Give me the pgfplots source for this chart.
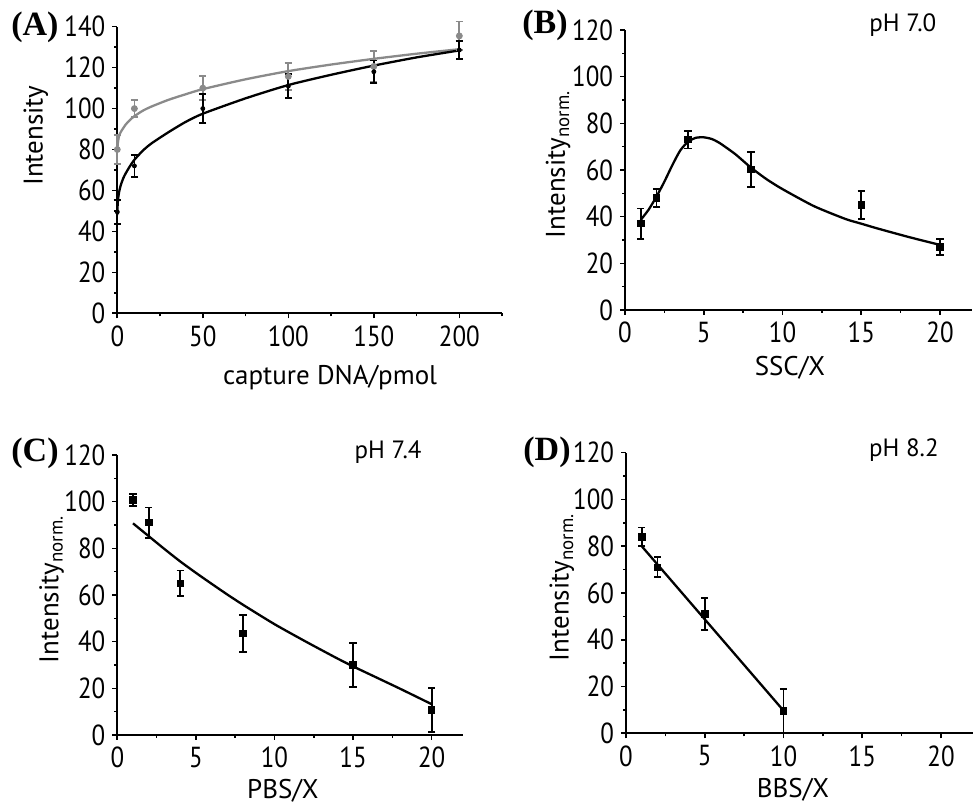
\documentclass[border=0pt]{standalone}
\usepackage{fontspec}
\setmainfont{PT Sans}
\newfontfamily\tickfont{PT Sans}[FakeStretch=0.86]
\newfontfamily\letterfont{Liberation Serif}
\usepackage{pgfplots}
\pgfplotsset{compat=1.18}
\definecolor{fitgray}{HTML}{8A8A8A}
\pgfplotsset{
  myax/.style={
    scale only axis, axis lines=left, axis line style={-, line width=0.9pt},
    tick align=outside, major tick length=2.5pt, minor tick length=1.5pt,
    every tick/.style={black, line width=0.8pt},
    tick label style={font=\tickfont\fontsize{14.5}{16}\selectfont},
    label style={font=\fontsize{13.5}{16}\selectfont},
    /pgf/number format/assume math mode=true,
    clip=false, ymin=0, xmin=0,
    anchor=south west,
  },
  errs/.style={error bars/.cd, y dir=both, y explicit,
    error bar style={line width=0.9pt, #1},
    error mark options={rotate=90, mark size=1.8pt, line width=0.9pt, #1}},
  errs/.default=black,
  dat/.style={black, only marks, mark=square*, mark size=1.6pt, errs},
  fit/.style={black, line width=1.15pt, smooth, tension=0.4, mark=none},
}
\tikzset{
  letter/.style={font=\letterfont\bfseries\fontsize{17}{19}\selectfont},
  ph/.style={font=\fontsize{12.5}{15}\selectfont},
}
\begin{document}
\begin{tikzpicture}
\path[use as bounding box] (0,0) rectangle (488pt,401.5pt);
% ---------------- (A)
\begin{axis}[myax, at={(58.65pt,244.85pt)}, width=192.4pt, height=143.3pt,
  xmax=225, ymax=140,
  xtick={0,50,100,150,200}, minor xtick={25,75,125,175,225},
  ytick={0,20,...,140}, minor ytick={10,30,...,130},
  xlabel={capture DNA/pmol}, ylabel={Intensity},
  xlabel style={at={(axis description cs:0.553,-0.226)}, anchor=center},
  ylabel style={at={(axis description cs:-0.212,0.62)}, anchor=center},
]
\addplot[fit, fitgray] coordinates {(0,79) (0.3,83) (1,86.5) (2,88.5) (3.5,90.5) (5,92.3) (7.5,94.5) (10,96.3) (15,99) (20,101) (30,104.3) (40,107) (50,109.5) (75,114.3) (100,118.3) (125,121.5) (150,124.3) (175,126.8) (200,129)};
\addplot[fit] coordinates {(0,48) (0.2,53) (0.5,56) (1,59) (2,62.5) (3.5,66) (5,68.5) (7.5,72) (10,75) (15,79.5) (20,83) (30,88.5) (40,93.5) (50,97.5) (75,105) (100,111.5) (125,116.5) (150,121) (175,125) (200,128.4)};
\addplot[fitgray, only marks, mark=*, mark size=1.5pt, errs=fitgray] coordinates {
 (0,80) +- (0,7) (10,100) +- (0,4) (50,110) +- (0,6) (100,115.7) +- (0,6.7) (150,120.6) +- (0,7.5) (200,135.5) +- (0,7)};
\addplot[black, only marks, mark=*, mark size=1pt, errs] coordinates {
 (0,49.5) +- (0,5.7) (10,72) +- (0,5.5) (50,100) +- (0,7) (100,111) +- (0,6) (150,118) +- (0,5.5) (200,128.6) +- (0,4.5)};
\node[letter] at (axis description cs:-0.214,0.999) {(A)};
\end{axis}
% ---------------- (B)
\begin{axis}[myax, at={(312.5pt,246.5pt)}, width=173.25pt, height=140pt,
  xmax=22, ymax=120,
  xtick={0,5,...,20}, minor xtick={2.5,7.5,12.5,17.5},
  ytick={0,20,...,120}, minor ytick={10,30,...,110},
  xlabel={SSC/X}, ylabel={Intensity\textsubscript{norm.}},
  xlabel style={at={(axis description cs:0.476,-0.205)}, anchor=center},
  ylabel style={at={(axis description cs:-0.193,0.52)}, anchor=center},
]
\addplot[fit] coordinates {(1,38.6) (1.5,43) (2,48.6) (2.5,55) (3,62) (3.5,68.3) (4,72.1) (4.5,73.8) (5,74) (5.5,73.3) (6,71.6) (7,66.8) (8,61) (9,56) (10,51.8) (12,44.5) (14,39) (15,37) (16,35) (18,31.3) (20,27.9)};
\addplot[dat] coordinates {(1,37) +- (0,6.5) (2,48) +- (0,4) (4,73) +- (0,3.8) (8,60.3) +- (0,7.5) (15,45) +- (0,6) (20,27) +- (0,3.5)};
\node[letter] at (axis description cs:-0.231,1.018) {(B)};
\node[ph] at (axis description cs:0.802,1.018) {pH 7.0};
\end{axis}
% ---------------- (C)
\begin{axis}[myax, at={(58.65pt,34pt)}, width=172.9pt, height=140pt,
  xmax=22, ymax=120,
  xtick={0,5,...,20}, minor xtick={2.5,7.5,12.5,17.5},
  ytick={0,20,...,120}, minor ytick={10,30,...,110},
  xlabel={PBS/X}, ylabel={Intensity\textsubscript{norm.}},
  xlabel style={at={(axis description cs:0.479,-0.198)}, anchor=center},
  ylabel style={at={(axis description cs:-0.19,0.52)}, anchor=center},
]
\addplot[fit] coordinates {(1,90.7) (2,85.2) (3,79.7) (4,74.4) (5,69.5) (6,64.8) (7,60.2) (8,55.8) (10,47.5) (12,40) (14,32.8) (15,29.4) (16,26.2) (18,19.8) (20,13.2)};
\addplot[dat] coordinates {(1,100.7) +- (0,2.5) (2,91) +- (0,6.5) (4,65) +- (0,5.5) (8,43.5) +- (0,8) (15,30) +- (0,9.3) (20,10.7) +- (0,9.3)};
\node[letter] at (axis description cs:-0.238,1.007) {(C)};
\node[ph] at (axis description cs:0.783,1.011) {pH 7.4};
\end{axis}
% ---------------- (D)
\begin{axis}[myax, at={(313pt,34.85pt)}, width=173.25pt, height=140.3pt,
  xmax=22, ymax=120,
  xtick={0,5,...,20}, minor xtick={2.5,7.5,12.5,17.5},
  ytick={0,20,...,120}, minor ytick={10,30,...,110},
  xlabel={BBS/X}, ylabel={Intensity\textsubscript{norm.}},
  xlabel style={at={(axis description cs:0.482,-0.203)}, anchor=center},
  ylabel style={at={(axis description cs:-0.185,0.52)}, anchor=center},
]
\addplot[black, line width=1.15pt] coordinates {(1,80) (10,9.7)};
\addplot[dat] coordinates {(1,84) +- (0,4) (2,71) +- (0,4.3) (5,51) +- (0,6.7) (10,9.5) +- (0,9.6)};
\node[letter] at (axis description cs:-0.228,1.0025) {(D)};
\node[ph] at (axis description cs:0.802,1.01) {pH 8.2};
\end{axis}
\end{tikzpicture}
\end{document}
